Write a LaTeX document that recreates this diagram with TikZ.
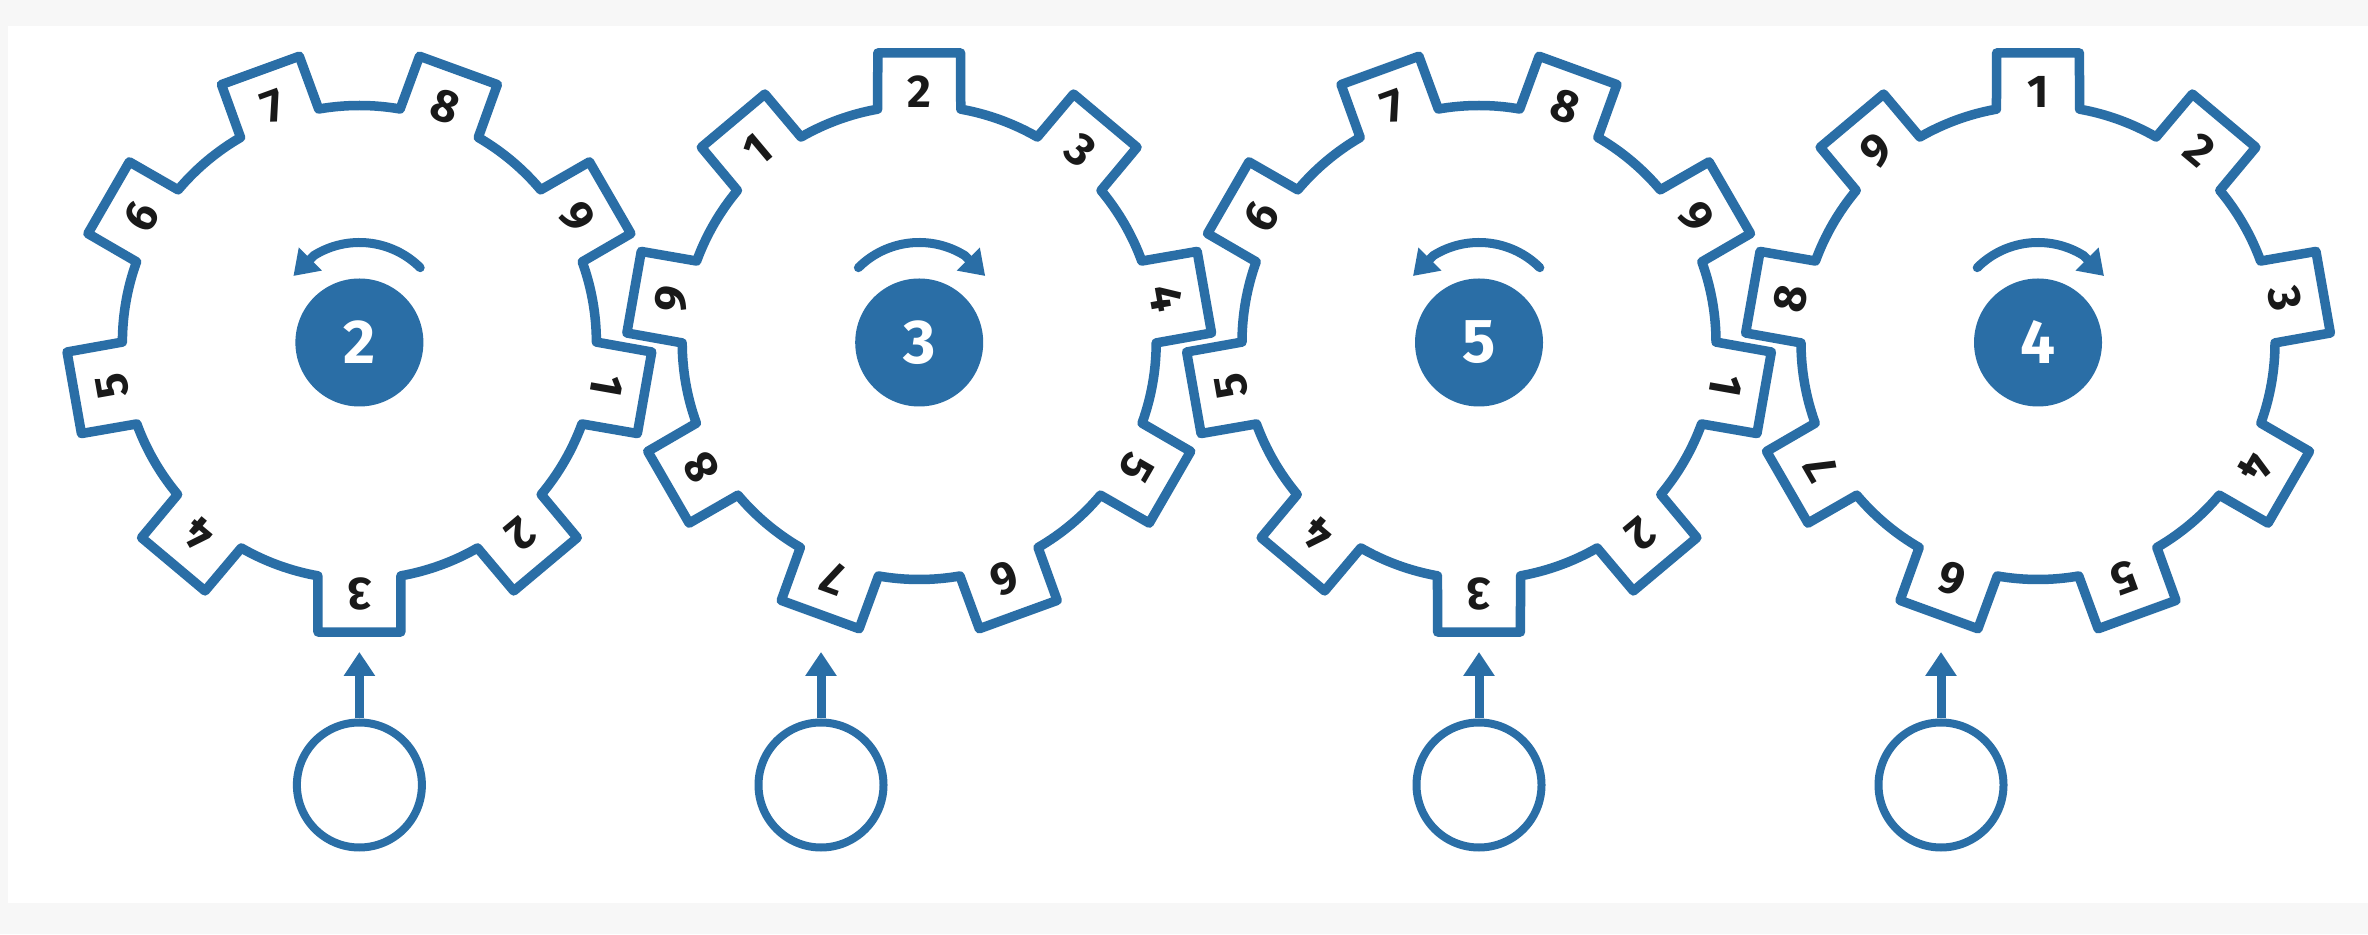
\documentclass[tikz,border=0pt]{standalone}
\usepackage{fontspec}
\setmainfont{Fira Sans}
\usetikzlibrary{arrows.meta,positioning}
\definecolor{gearblue}{HTML}{2A6EA6}
\tikzset{
  gearline/.style={draw=gearblue,line width=9.5pt,line join=round},
  toothnum/.style={font=\fontsize{46}{46}\selectfont\bfseries,text=black!90,inner sep=0pt},
  hub/.style={circle,fill=gearblue,minimum size=128pt,inner sep=0pt,text=white,font=\fontsize{62}{62}\selectfont\bfseries},
  inputring/.style={circle,draw=gearblue,line width=8pt,minimum size=125pt,inner sep=0pt},
  turnarrow/.style={draw=gearblue,line width=9pt,line cap=round,-{Triangle[length=24pt,width=31pt]}},
  inputarrow/.style={draw=gearblue,line width=9pt,-{Triangle[length=24pt,width=30pt]}}
}
\newcommand{\gear}[6]{%
  \begin{scope}[shift={(#2,591.5)}]
    \draw[gearline] (#3+10.1:237)
      \foreach \k [evaluate=\k as \a using #3-40*(\k-1)] in {1,...,9} {
        -- (\a+10.1:237) -- (\a+8.14:292.5) -- (\a-8.14:292.5) -- (\a-10.1:237)
        arc[start angle=\a-10.1,end angle=\a-29.9,radius=237]
      } -- cycle;
    \foreach \k [evaluate=\k as \a using #3-40*(\k-1),evaluate=\k as \r using #3-40*(\k-1)-90] in {1,...,9}
      \node[toothnum,rotate=\r] (#1t\k) at (\a:251) {\k};
    \node[hub] (#1hub) at (0,0) {#4};
    \draw[turnarrow,xscale=#5] (0,14) ++(45:86) arc[start angle=45,end angle=122,radius=86] -- (-66,66.5);
  \end{scope}
  \node[inputring] (#1in) at (#6,149) {};
  \coordinate (#1tip) at (#6,282);
  \draw[inputarrow] (#1in.north) -- (#1tip);
}
\begin{document}
\begin{tikzpicture}[x=1pt,y=1pt]
  \useasboundingbox (0,0) rectangle (2368,934);
  \fill[black!3] (0,0) rectangle (2368,934);
  \fill[white] (8,31) rectangle (2368,908);
  \gear{a}{359.4}{350}{2}{1}{359.4}
  \gear{b}{919.2}{130}{3}{-1}{821}
  \gear{c}{1479}{350}{5}{1}{1479}
  \gear{d}{2038}{90}{4}{-1}{1941}
\end{tikzpicture}
\end{document}
